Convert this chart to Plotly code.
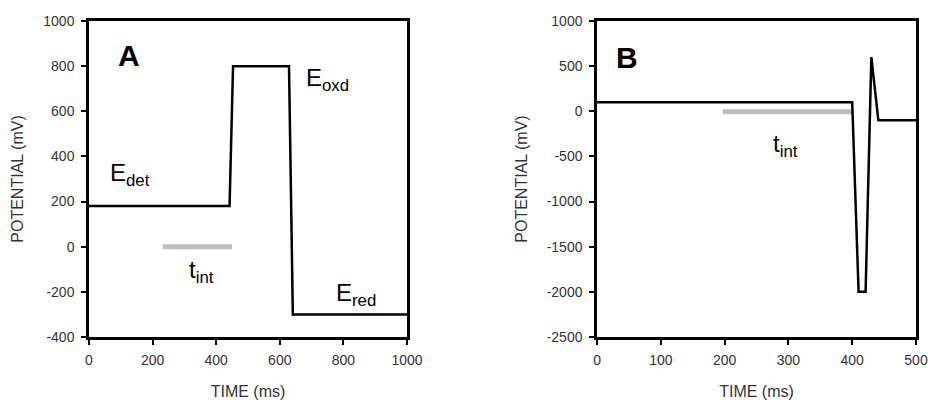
import plotly.graph_objects as go
from plotly.subplots import make_subplots

# Panel A waveform
a_time = [0, 442, 453, 629, 641, 1000]
a_potential = [180, 180, 800, 800, -300, -300]
a_tint_time = [232, 450]
a_tint_pot = [0, 0]

# Panel B waveform
b_time = [0, 400, 410, 421, 430, 441, 500]
b_potential = [100, 100, -2000, -2000, 600, -100, -100]
b_tint_time = [197, 400]
b_tint_pot = [-5, -5]

a_xticks = [0, 200, 400, 600, 800, 1000]
a_yticks = [1000, 800, 600, 400, 200, 0, -200, -400]
a_ytext = ["1000", "800", "600", "400", "200", "0", "-200", "-400"]
b_xticks = [0, 100, 200, 300, 400, 500]
b_yticks = [1000, 500, 0, -500, -1000, -1500, -2000, -2500]
b_ytext = ["1000", "500", "0", "-500", "-1000", "-1500", "-2000", "-2500"]

fig = make_subplots(rows=1, cols=2, horizontal_spacing=0.23)

fig.add_trace(go.Scatter(x=a_tint_time, y=a_tint_pot, mode="lines",
                         line=dict(color="#bdbdbd", width=5), showlegend=False), 1, 1)
fig.add_trace(go.Scatter(x=a_time, y=a_potential, mode="lines",
                         line=dict(color="black", width=2.5), showlegend=False), 1, 1)
fig.add_trace(go.Scatter(x=b_tint_time, y=b_tint_pot, mode="lines",
                         line=dict(color="#bdbdbd", width=5), showlegend=False), 1, 2)
fig.add_trace(go.Scatter(x=b_time, y=b_potential, mode="lines",
                         line=dict(color="black", width=2.5), showlegend=False), 1, 2)

FONT = "Liberation Sans, Arial, sans-serif"
tickfont = dict(family=FONT, size=14, color="#333")
titlefont = dict(family=FONT, size=16, color="#333")

axis_common = dict(showline=True, linecolor="black", linewidth=2.5, mirror=True,
                   ticks="outside", ticklen=5, tickwidth=1.5, tickcolor="black",
                   showgrid=False, zeroline=False, tickfont=tickfont, automargin=False)

fig.update_xaxes(range=[0, 1000], tickvals=a_xticks, ticklabelstandoff=3,
                 title=dict(text="TIME (ms)", font=titlefont, standoff=22), row=1, col=1, **axis_common)
fig.update_yaxes(range=[-400, 1000], tickvals=a_yticks, ticktext=a_ytext, ticklabelstandoff=4,
                 title=dict(text="POTENTIAL (mV)", font=titlefont, standoff=16), row=1, col=1, **axis_common)
fig.update_xaxes(range=[0, 500], tickvals=b_xticks, ticklabelstandoff=3,
                 title=dict(text="TIME (ms)", font=titlefont, standoff=22), row=1, col=2, **axis_common)
fig.update_yaxes(range=[-2500, 1000], tickvals=b_yticks, ticktext=b_ytext, ticklabelstandoff=4,
                 title=dict(text="POTENTIAL (mV)", font=titlefont, standoff=16), row=1, col=2, **axis_common)

fig.update_layout(
    width=928, height=400,
    margin=dict(l=89, r=12, t=21, b=63),
    plot_bgcolor="white", paper_bgcolor="white",
    xaxis=dict(domain=[0, 0.3845]),
    xaxis2=dict(domain=[0.6143, 1.0]),
)

lab = dict(family=FONT, size=24, color="black")
ann = [
    dict(x=85, y=845, xref="x", yref="y", text="<b>A</b>", font=dict(family=FONT, size=30, color="black"), xanchor="left"),
    dict(x=60, y=320, xref="x", yref="y", text="E<sub>det</sub>", font=lab, xanchor="left"),
    dict(x=675, y=740, xref="x", yref="y", text="E<sub>oxd</sub>", font=lab, xanchor="left"),
    dict(x=770, y=-212, xref="x", yref="y", text="E<sub>red</sub>", font=lab, xanchor="left"),
    dict(x=355, y=-110, xref="x", yref="y", text="t<sub>int</sub>", font=lab, xanchor="center"),
    dict(x=47, y=600, xref="x2", yref="y2", text="<b>B</b>", font=dict(family=FONT, size=30, color="black"), xanchor="center"),
    dict(x=295, y=-380, xref="x2", yref="y2", text="t<sub>int</sub>", font=lab, xanchor="center"),
]
for a in ann:
    a["showarrow"] = False
fig.update_layout(annotations=ann)

fig.write_html("out.html", post_script="document.body.style.margin='0';",
               config={"displayModeBar": False})
